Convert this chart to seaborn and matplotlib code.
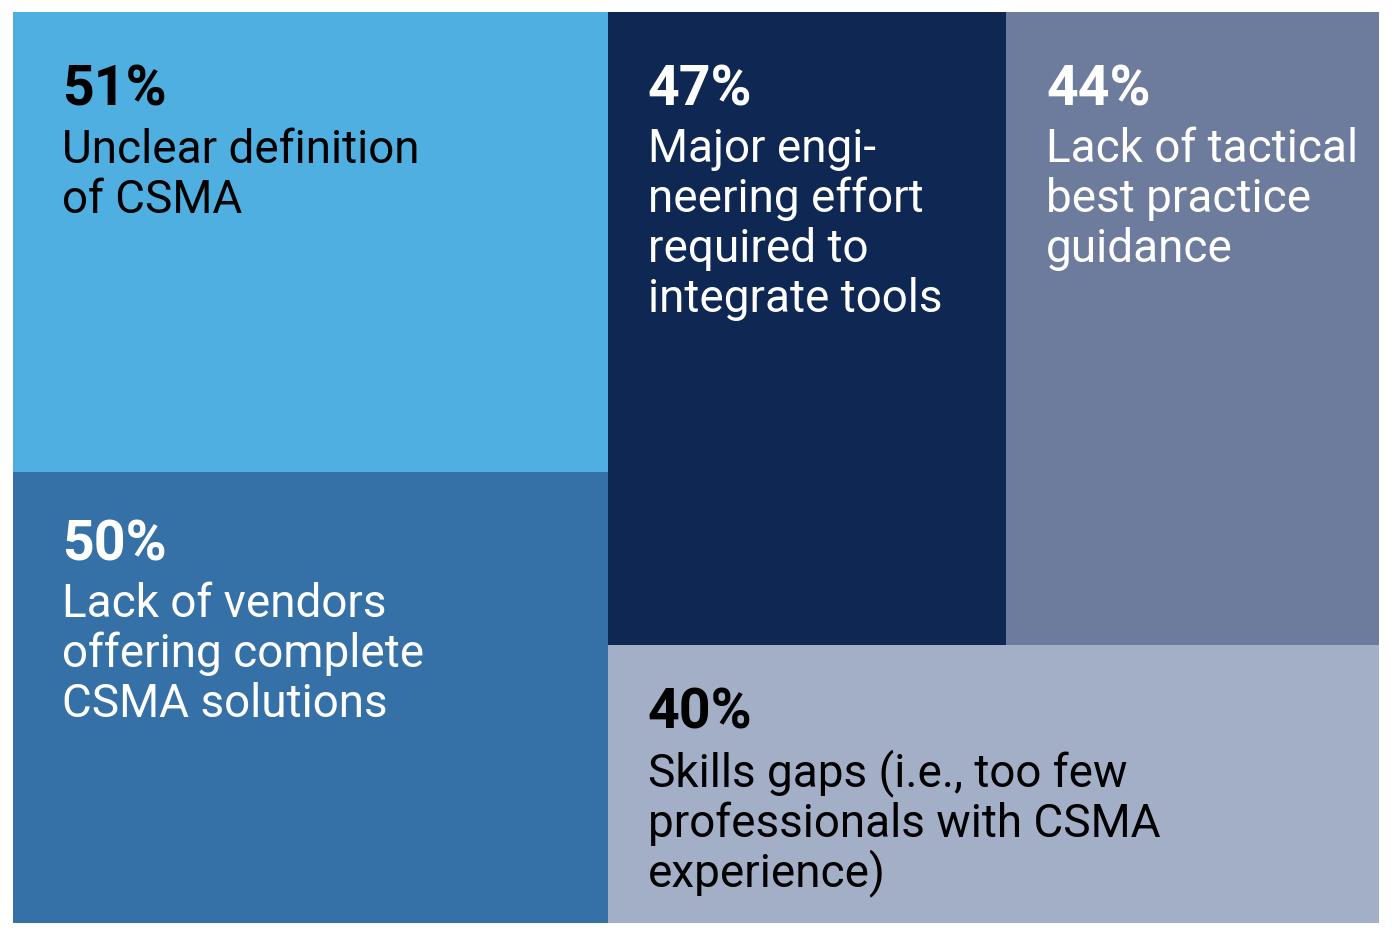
"""Treemap of CSMA adoption challenges (share of respondents)."""

import matplotlib

matplotlib.use("Agg")
import matplotlib.pyplot as plt
import seaborn as sns
from matplotlib.patches import Rectangle

# data
shares = [51, 50, 47, 44, 40]
labels = [
    "Unclear definition\nof CSMA",
    "Lack of vendors\noffering complete\nCSMA solutions",
    "Major engi-\nneering effort\nrequired to\nintegrate tools",
    "Lack of tactical\nbest practice\nguidance",
    "Skills gaps (i.e., too few\nprofessionals with CSMA\nexperience)",
]

# styles
cell_colors = ["#4FAFE0", "#3571A7", "#0F2753", "#6D7C9C", "#A2AFC7"]
text_colors = ["black", "white", "white", "white", "black"]
# (left pad, percent baseline, first label baseline) in px from cell corner
text_pads = [(49, 93, 151), (49, 88, 145), (40, 93, 150), (40, 93, 150), (40, 84, 142)]

W, H = 1366, 911  # plot area in pixels


def worst(row, side):
    s = sum(row)
    return max(max(side * side * r / (s * s), s * s / (side * side * r)) for r in row)


def squarify(values, x, y, w, h):
    total = sum(values)
    areas = [v * w * h / total for v in values]
    rects = []
    while areas:
        side = min(w, h)
        row = [areas.pop(0)]
        while areas and worst(row + [areas[0]], side) <= worst(row, side):
            row.append(areas.pop(0))
        s = sum(row)
        if w >= h:
            cw = s / h
            yy = y
            for a in row:
                rects.append((x, yy, cw, a / cw))
                yy += a / cw
            x += cw
            w -= cw
        else:
            rh = s / w
            xx = x
            for a in row:
                rects.append((xx, y, a / rh, rh))
                xx += a / rh
            y += rh
            h -= rh
    return rects


sns.set_theme(style="white")
plt.rcParams["font.family"] = ["Roboto", "DejaVu Sans"]

fig = plt.figure(figsize=(13.92, 9.34), dpi=100)
ax = fig.add_axes([13 / 1392, 11 / 934, W / 1392, H / 934])
ax.set_xlim(0, W)
ax.set_ylim(H, 0)
ax.axis("off")

rects = squarify(shares, 0, 0, W, H)
for (x, y, w, h), val, lab, fc, tc, (px, py, ly) in zip(
    rects, shares, labels, cell_colors, text_colors, text_pads
):
    ax.add_patch(Rectangle((x, y), w, h, facecolor=fc, edgecolor="none"))
    ax.text(x + px, y + py, f"{val}%", color=tc, fontsize=40,
            fontweight="bold", va="baseline", ha="left")
    for i, line in enumerate(lab.split("\n")):
        ax.text(x + px, y + ly + 50 * i, line, color=tc, fontsize=33,
                va="baseline", ha="left")

fig.savefig("out.png", dpi=100)
plt.close(fig)
